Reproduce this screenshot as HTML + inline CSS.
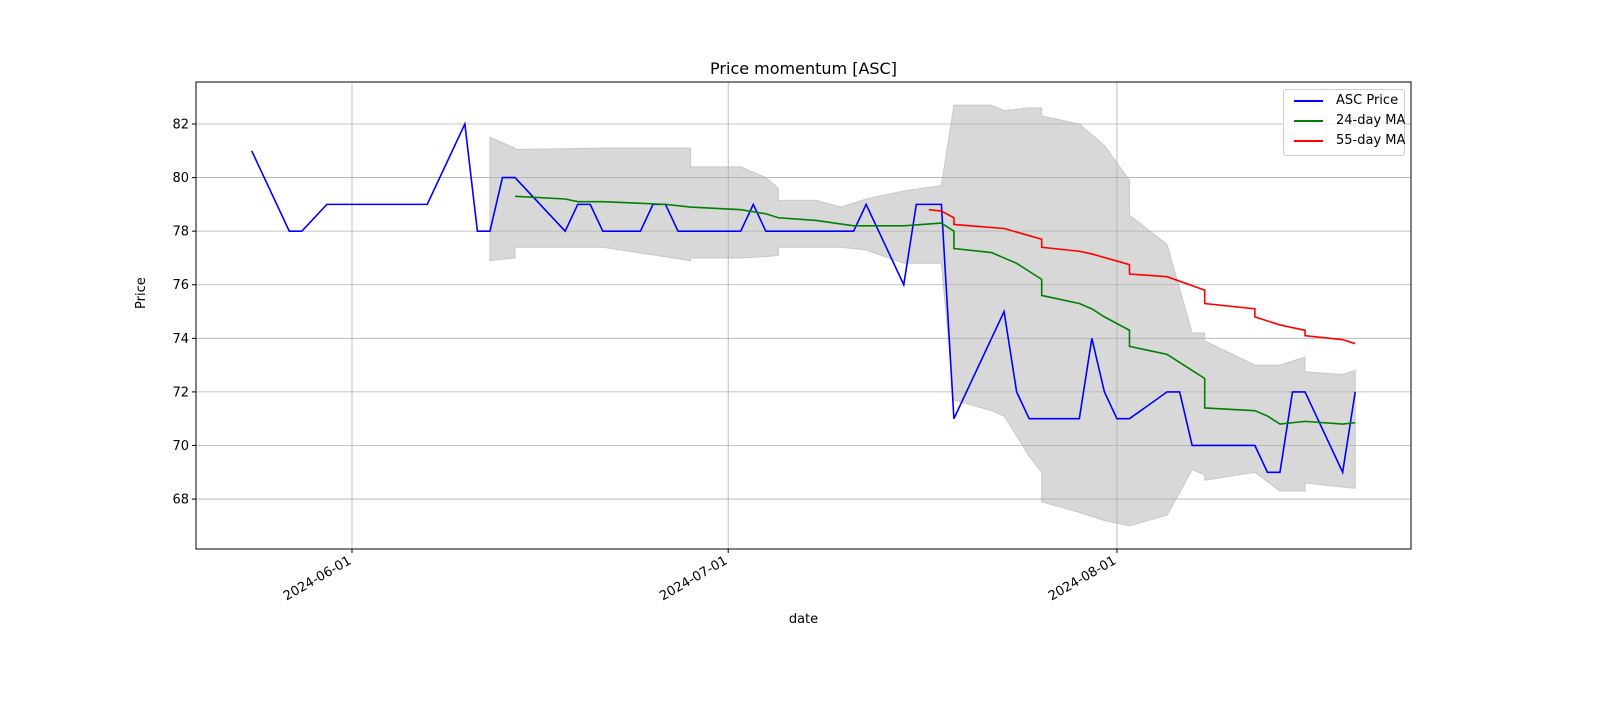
<!DOCTYPE html>
<html><head><meta charset="utf-8"><style>
body{margin:0;background:#fff;font-family:"DejaVu Sans","Liberation Sans",sans-serif;}
svg text{font-family:"DejaVu Sans","Liberation Sans",sans-serif;}
</style></head><body>
<svg id="c" width="1600" height="700" xmlns="http://www.w3.org/2000/svg"></svg>
<script>
// days are offsets from 2024-06-01
const priceDays=[-8,-5,-4,-2,6,9,10,11,12,13,17,18,19,20,23,24,25,26,31,32,33,40,41,44,45,47,48,52,53,54,58,59,60,61,62,65,66,67,72,73,74,75,76,79,80];
const priceVals=[81,78,78,79,79,82,78,78,80,80,78,79,79,78,78,79,79,78,78,79,78,78,79,76,79,79,71,75,72,71,71,74,72,71,71,72,72,70,70,69,69,72,72,69,72];
const ma24Days=[13,17,18,20,25,27,31,33,34,37,40,44,47,48,48,51,52,53,55,55,58,59,60,62,62,65,66,67,68,68,72,73,74,76,79,80];
const ma24Vals=[79.3,79.2,79.1,79.1,79.0,78.9,78.8,78.65,78.5,78.4,78.2,78.2,78.3,78.0,77.35,77.2,77.0,76.8,76.2,75.6,75.3,75.1,74.8,74.3,73.7,73.4,73.1,72.8,72.5,71.4,71.3,71.1,70.8,70.9,70.8,70.85];
const ma55Days=[46,47,48,48,52,55,55,58,59,62,62,65,68,68,72,72,74,76,76,79,80];
const ma55Vals=[78.8,78.75,78.5,78.25,78.1,77.7,77.4,77.25,77.15,76.75,76.4,76.3,75.8,75.3,75.1,74.8,74.5,74.3,74.1,73.95,73.8];
const bandDays=[11,13,13,20,27,27,31,33,34,34,37,39,41,44,47,48,51,52,54,55,55,58,60,62,62,65,67,68,68,72,74,76,76,79,80];
const bandUpper=[81.5,81.1,81.05,81.1,81.1,80.4,80.4,80.0,79.6,79.15,79.15,78.9,79.2,79.5,79.7,82.7,82.7,82.5,82.6,82.6,82.3,82.0,81.2,79.9,78.6,77.5,74.2,74.2,73.9,73.0,73.0,73.3,72.75,72.65,72.8];
const bandLower=[76.9,77.0,77.4,77.4,76.9,77.0,77.0,77.05,77.1,77.4,77.4,77.4,77.3,76.8,76.8,71.7,71.3,71.1,69.6,69.0,67.9,67.5,67.2,67.0,67.0,67.4,69.1,68.9,68.7,69.0,68.3,68.3,68.6,68.45,68.4];
const yTicks=[68,70,72,74,76,78,80,82];
const xTickDays=[0,30,61];
const xTickLabels=["2024-06-01","2024-07-01","2024-08-01"];

const L=196,R=1411,T=82,B=549;
const X=d=>352+d*12.54;
const Y=v=>124+(82-v)*26.79;
const svg=document.getElementById('c');
const NS='http://www.w3.org/2000/svg';
function mk(tag,attrs,parent){const e=document.createElementNS(NS,tag);for(const k in attrs)e.setAttribute(k,attrs[k]);(parent||svg).appendChild(e);return e;}

// band
let pts=bandDays.map((d,i)=>X(d)+','+Y(bandUpper[i]));
for(let i=bandDays.length-1;i>=0;i--)pts.push(X(bandDays[i])+','+Y(bandLower[i]));
const band=mk('polygon',{points:pts.join(' '),fill:'#d8d8d8',stroke:'#c8c8c8','stroke-width':1});



// grid
yTicks.forEach(v=>{
  const g=mk('line',{x1:L,x2:R,y1:Y(v),y2:Y(v),stroke:'#b0b0b0','stroke-width':0.8});
  
  
  mk('line',{x1:L-4,x2:L,y1:Y(v),y2:Y(v),stroke:'#000'});
  const t=mk('text',{x:L-7,y:Y(v)+4.5,'text-anchor':'end','font-size':13});
  t.textContent=v;
  
  
});
xTickDays.forEach((d,i)=>{
  const g=mk('line',{x1:X(d),x2:X(d),y1:T,y2:B,stroke:'#b0b0b0','stroke-width':0.8});
  
  
  mk('line',{x1:X(d),x2:X(d),y1:B,y2:B+4,stroke:'#000'});
  const t=mk('text',{x:X(d),y:B+14,'text-anchor':'end','font-size':13,transform:`rotate(-30 ${X(d)} ${B+14})`});
  t.textContent=xTickLabels[i];
  
  
});

function line(days,vals,color,name){
  const p=mk('polyline',{points:days.map((d,i)=>X(d)+','+Y(vals[i])).join(' '),fill:'none',stroke:color,'stroke-width':1.6});
  
  
}
line(priceDays,priceVals,'#0000ff','asc-price-line');
line(ma24Days,ma24Vals,'#008000','ma24-line');
line(ma55Days,ma55Vals,'#ff0000','ma55-line');

const fr=mk('rect',{x:L,y:T,width:R-L,height:B-T,fill:'none',stroke:'#000','stroke-width':1});


</script>
<svg width="0" height="0"></svg>
<div style="position:absolute;left:0;top:0;width:1600px;height:700px;pointer-events:none">
<div style="position:absolute;left:0;width:1607px;top:59px;text-align:center;font-size:16px">Price momentum [ASC]</div>
<div style="position:absolute;left:0;width:1607px;top:612px;text-align:center;font-size:13px">date</div>
<div style="position:absolute;left:134px;top:309px;font-size:13px;transform:rotate(-90deg);transform-origin:left top;">Price</div>
<div style="position:absolute;left:1283px;top:89px;width:120px;height:65px;border:1px solid #ccc;border-radius:3px;background:rgba(255,255,255,0.8);font-size:13px">
 <div style="position:absolute;left:10px;top:3px;white-space:nowrap"><span style="display:inline-block;width:29px;border-top:2px solid #00f;vertical-align:middle;margin-right:13px"></span>ASC Price</div>
 <div style="position:absolute;left:10px;top:23px;white-space:nowrap"><span style="display:inline-block;width:29px;border-top:2px solid #008000;vertical-align:middle;margin-right:13px"></span>24-day MA</div>
 <div style="position:absolute;left:10px;top:43px;white-space:nowrap"><span style="display:inline-block;width:29px;border-top:2px solid #f00;vertical-align:middle;margin-right:13px"></span>55-day MA</div>
</div>
</div>
</body></html>
